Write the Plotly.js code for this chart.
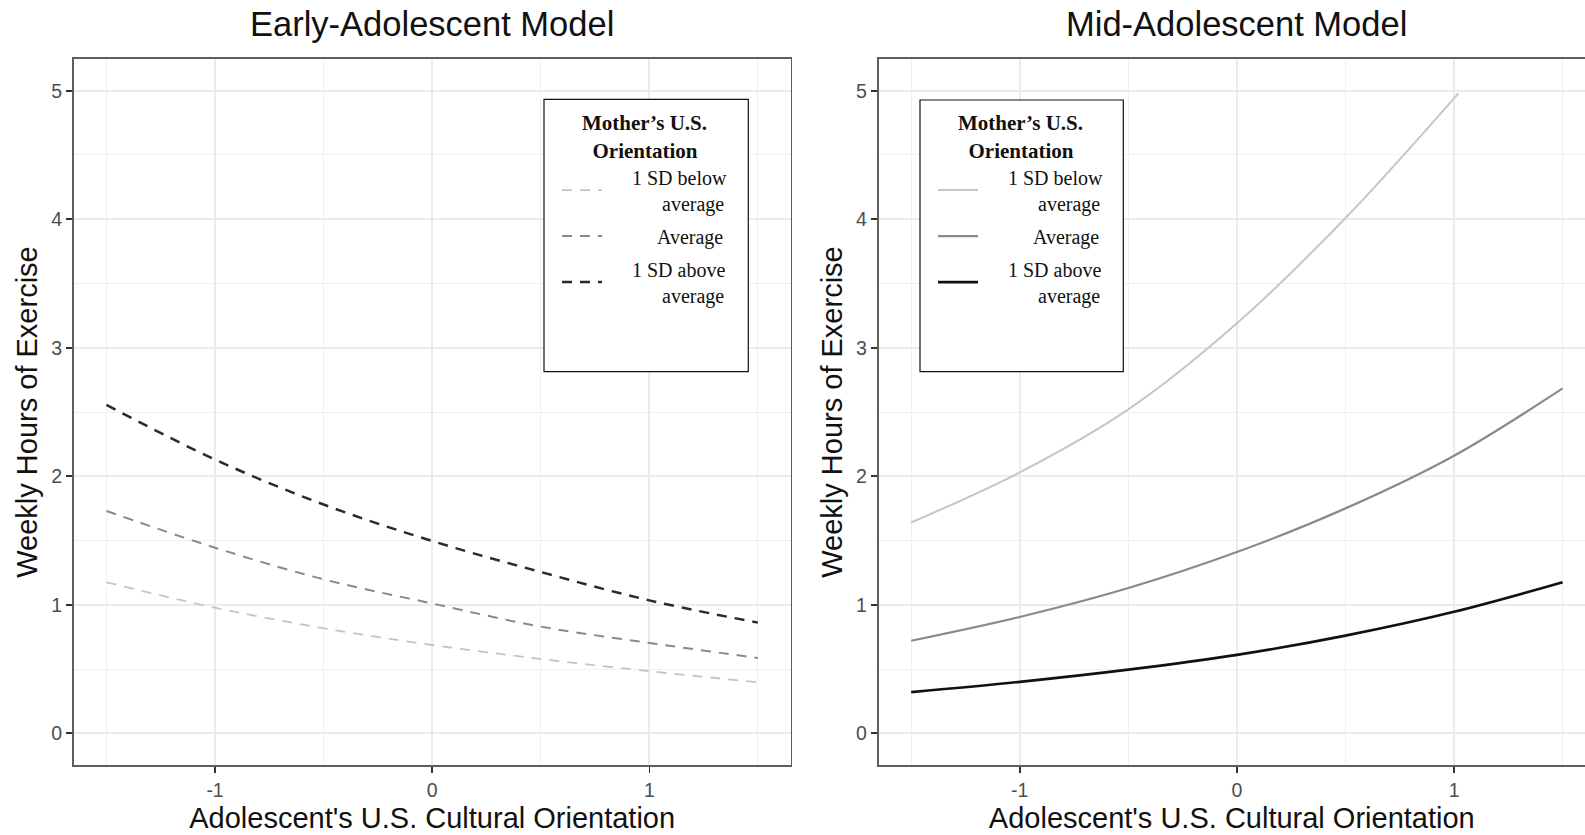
<!DOCTYPE html>
<html>
<head>
<meta charset="utf-8">
<script src="https://cdn.plot.ly/plotly-3.0.1.min.js"></script>
<style>
  html, body { margin: 0; padding: 0; background: #ffffff; overflow: hidden; }
  #chart { width: 1585px; height: 835px; }
</style>
</head>
<body>
<div id="chart"></div>
<script>
// ---------- data ----------
const panelTitles = ['Early-Adolescent Model', 'Mid-Adolescent Model'];
const xTitle = "Adolescent's U.S. Cultural Orientation";
const yTitle = 'Weekly Hours of Exercise';
const legendTitleLines = ['Mother’s U.S.', 'Orientation'];
const legendTitlePad = [0, 2];             // centring padding (non-breaking spaces)
const seriesNames = ['1 SD below average', 'Average', '1 SD above average'];
const legendLines = [['1 SD below', 'average'], ['Average'], ['1 SD above', 'average']];
const legendPad = [[0, 6], [5], [0, 6]];   // right-alignment padding (non-breaking spaces)
const xTickVals = [-1, 0, 1];
const xTickText = ['-1', '0', '1'];
const yTickVals = [0, 1, 2, 3, 4, 5];
const yTickText = ['0', '1', '2', '3', '4', '5'];

// Early-adolescent model (dashed lines)
const earlyX = [-1.5, -1, -0.5, 0, 0.5, 1, 1.5];
const earlyBelow   = [1.175, 0.977, 0.817, 0.687, 0.578, 0.483, 0.397];
const earlyAverage = [1.73, 1.444, 1.198, 1.01, 0.83, 0.703, 0.586];
const earlyAbove   = [2.555, 2.13, 1.78, 1.496, 1.255, 1.034, 0.861];

// Mid-adolescent model (solid lines)
const midX = [-1.5, -1, -0.5, 0, 0.5, 1, 1.5];
const midXBelow = [-1.5, -1, -0.5, 0, 0.5, 1.02];
const midBelow   = [1.64, 2.03, 2.52, 3.19, 4.01, 4.98];
const midAverage = [0.72, 0.905, 1.13, 1.41, 1.75, 2.16, 2.684];
const midAbove   = [0.32, 0.40, 0.495, 0.61, 0.76, 0.945, 1.175];

// ---------- styling ----------
const W = 1585, H = 835;
const px = v => v / W;
const py = v => 1 - v / H;
const NB = '\u00a0';
const lead = NB.repeat(5);
const legendLabels = legendLines.map((lines, i) =>
  lines.map((t, j) => lead + NB.repeat(legendPad[i][j]) + t).join('<br>'));
const legendTitle = legendTitleLines.map((t, j) => NB.repeat(legendTitlePad[j]) + t).join('<br>');

const earlyColors = ['#c4c4c4', '#8a8a8a', '#2a2a2a'];
const midColors = ['#c6c6c6', '#8a8a8a', '#111111'];
const earlyWidths = [1.8, 2.0, 2.5];
const midWidths = [2.0, 2.2, 2.6];
const dashStyle = '10px,8px';

const traces = [];
const earlyY = [earlyBelow, earlyAverage, earlyAbove];
earlyY.forEach((ys, i) => {
  traces.push({
    type: 'scatter', mode: 'lines', x: earlyX, y: ys,
    name: legendLabels[i], legendgroup: 'e' + i, legend: 'legend',
    line: { color: earlyColors[i], width: earlyWidths[i], dash: dashStyle, shape: 'spline', smoothing: 1 },
    xaxis: 'x', yaxis: 'y'
  });
});
const midXs = [midXBelow, midX, midX];
const midY = [midBelow, midAverage, midAbove];
midY.forEach((ys, i) => {
  traces.push({
    type: 'scatter', mode: 'lines', x: midXs[i], y: ys,
    name: legendLabels[i], legendgroup: 'm' + i, legend: 'legend2',
    line: { color: midColors[i], width: midWidths[i], shape: 'spline', smoothing: 1 },
    xaxis: 'x2', yaxis: 'y2'
  });
});

const tickFont = { family: 'Liberation Sans, Arial, sans-serif', size: 19.5, color: '#4d4d4d' };
const titleFont = { family: 'Liberation Sans, Arial, sans-serif', size: 29, color: '#111111' };
const borderColor = '#5e5e5e';

function xAxis(domain, range, anchor) {
  return {
    domain: domain, range: range, anchor: anchor,
    tickmode: 'array', tickvals: xTickVals, ticktext: xTickText,
    ticks: 'outside', ticklen: 6, tickwidth: 1.6, tickcolor: '#333333',
    showline: true, linecolor: borderColor, linewidth: 1.8, mirror: true,
    showgrid: true, gridcolor: '#ebebeb', gridwidth: 1.8,
    minor: { tickmode: 'array', tickvals: [-1.5, -0.5, 0.5, 1.5], showgrid: true, gridcolor: '#f0f0f0', gridwidth: 1, ticks: '' },
    zeroline: false, tickfont: tickFont,
    title: { text: xTitle, font: titleFont, standoff: 8 },
    fixedrange: true
  };
}
function yAxis(anchor, mirror) {
  return {
    domain: [py(765.4), py(58.6)], range: [-0.25, 5.25], anchor: anchor,
    tickmode: 'array', tickvals: yTickVals, ticktext: yTickText,
    ticks: 'outside', ticklen: 6, tickwidth: 1.6, tickcolor: '#333333',
    showline: true, linecolor: borderColor, linewidth: 1.8, mirror: mirror,
    showgrid: true, gridcolor: '#ebebeb', gridwidth: 1.8,
    minor: { tickmode: 'array', tickvals: [0.5, 1.5, 2.5, 3.5, 4.5], showgrid: true, gridcolor: '#f0f0f0', gridwidth: 1, ticks: '' },
    zeroline: false, tickfont: tickFont,
    title: { text: yTitle, font: titleFont, standoff: 5 },
    fixedrange: true
  };
}

const legendFont = { family: 'Liberation Serif, Times New Roman, serif', size: 20, color: '#111111' };
function legendCfg(xLeft) {
  return {
    x: px(xLeft), y: py(103), xanchor: 'left', yanchor: 'top',
    bgcolor: 'rgba(0,0,0,0)', borderwidth: 0,
    font: legendFont, itemwidth: 40, tracegroupgap: 4,
    title: { text: '<b>' + legendTitle + '</b>', side: 'top center',
             font: { family: legendFont.family, size: 21, color: '#111111' } },
    itemclick: false, itemdoubleclick: false
  };
}

const layout = {
  width: W, height: H,
  margin: { l: 0, r: 0, t: 0, b: 0 },
  paper_bgcolor: '#ffffff', plot_bgcolor: '#ffffff',
  showlegend: true,
  xaxis: xAxis([px(73.9), px(790.5)], [-1.65, 1.65], 'y'),
  yaxis: yAxis('x', true),
  xaxis2: xAxis([px(878.6), 1], [-1.65, 1.603], 'y2'),
  yaxis2: yAxis('x2', false),
  legend: legendCfg(557),
  legend2: legendCfg(933),
  annotations: [
    { text: panelTitles[0], xref: 'paper', yref: 'paper', x: px(432.2), y: py(24), xanchor: 'center', yanchor: 'middle',
      showarrow: false, font: { family: 'Liberation Sans, Arial, sans-serif', size: 34.5, color: '#111111' } },
    { text: panelTitles[1], xref: 'paper', yref: 'paper', x: px(1236.9), y: py(24), xanchor: 'center', yanchor: 'middle',
      showarrow: false, font: { family: 'Liberation Sans, Arial, sans-serif', size: 34.5, color: '#111111' } }
  ],
  shapes: [
    { type: 'rect', xref: 'paper', yref: 'paper', x0: px(544), x1: px(748.3), y0: py(371.7), y1: py(99.3),
      line: { color: '#111111', width: 1.2 }, fillcolor: '#ffffff', layer: 'above' },
    { type: 'rect', xref: 'paper', yref: 'paper', x0: px(920), x1: px(1123.3), y0: py(371.7), y1: py(100),
      line: { color: '#111111', width: 1.2 }, fillcolor: '#ffffff', layer: 'above' }
  ],
  hovermode: false
};

Plotly.newPlot('chart', traces, layout, { displayModeBar: false, staticPlot: true });
</script>
</body>
</html>
